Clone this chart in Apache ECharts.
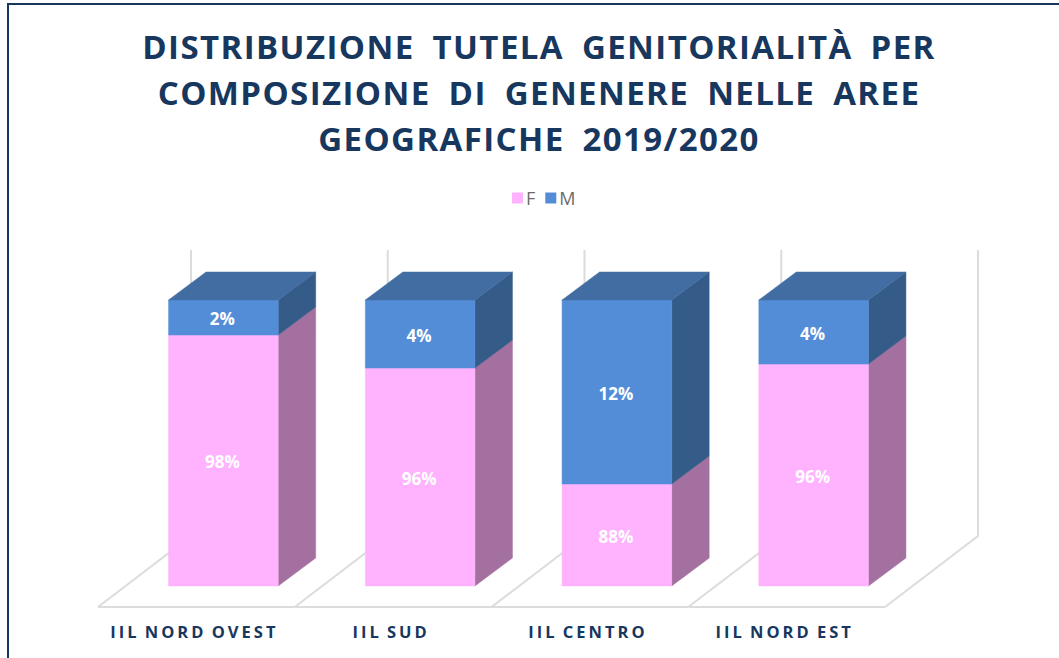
<!DOCTYPE html>
<html>
<head>
<meta charset="utf-8">
<style>
html,body{margin:0;padding:0;background:#fff}
#c{width:1059px;height:658px}
/* spaced-out lettering of the reference: title and category labels */
#c text[style*="33px"]{letter-spacing:1.4px;word-spacing:8px}
#c text[style*="16.5px"]{letter-spacing:3px;word-spacing:-2px}
</style>
<script src="https://cdn.jsdelivr.net/npm/echarts@6/dist/echarts.min.js"></script>
</head>
<body>
<div id="c"></div>
<script>
const titleText = 'DISTRIBUZIONE TUTELA GENITORIALITÀ PER\nCOMPOSIZIONE DI GENENERE NELLE AREE\nGEOGRAFICHE 2019/2020';
const categories = ['IIL NORD OVEST', 'IIL SUD', 'IIL CENTRO', 'IIL NORD EST'];
const fValues = [97.55, 95.24, 87.13, 95.52];
const totals = [100, 100, 100, 100];
const fLabels = ['98%', '96%', '88%', '96%'];
const mLabels = ['2%', '4%', '12%', '4%'];

const AXIS_MIN = 80, AXIS_MAX = 100;
const BAR_W = 109.6, BAR_SHIFT = 27, DEPTH_X = 37.5, DEPTH_Y = 28;
const FLOOR_X = 93, FRONT_DROP = 21, BACK_RISE = 50;
const C = {
  pink: '#FFB3FF', pinkSide: '#A3709F',
  blue: '#548DD7', blueSide: '#355C89', blueTop: '#426DA2',
  grid: '#DCDCDC', navy: '#17375E'
};

function poly(points, fill) {
  return { type: 'polygon', shape: { points }, style: { fill, stroke: fill, lineWidth: 0.5 } };
}
function boxRender(front, side, top, labels) {
  return function (params, api) {
    const i = api.value(0);
    const p0 = api.coord([i, api.value(1)]);
    const p1 = api.coord([i, api.value(2)]);
    const l = p0[0] - BAR_W / 2 + BAR_SHIFT, r = l + BAR_W;
    const yb = p0[1], yt = p1[1];
    const kids = [
      poly([[r, yb], [r + DEPTH_X, yb - DEPTH_Y], [r + DEPTH_X, yt - DEPTH_Y], [r, yt]], side),
      poly([[l, yb], [r, yb], [r, yt], [l, yt]], front)
    ];
    if (top) kids.push(poly([[l, yt], [r, yt], [r + DEPTH_X, yt - DEPTH_Y], [l + DEPTH_X, yt - DEPTH_Y]], top));
    kids.push({
      type: 'text',
      style: {
        x: (l + r) / 2 - 1, y: (yb + yt) / 2 + 1, text: labels[i],
        fill: '#fff', align: 'center', verticalAlign: 'middle',
        font: 'bold 17px "Open Sans", sans-serif'
      }
    });
    return { type: 'group', children: kids };
  };
}
function floorRender(params, api) {
  const i = api.value(0);
  const c = api.coord([i, AXIS_MIN]);
  const top = api.coord([i, AXIS_MAX])[1];
  const band = api.size([1, 0])[0];
  const lineStyle = { stroke: C.grid, lineWidth: 2, fill: 'none' };
  const bounds = i === categories.length - 1 ? [c[0] - band / 2, c[0] + band / 2] : [c[0] - band / 2];
  const kids = [];
  bounds.forEach(x => {
    kids.push({
      type: 'polyline',
      shape: { points: [[x, c[1] + FRONT_DROP], [x + FLOOR_X, c[1] - BACK_RISE], [x + FLOOR_X, top - BACK_RISE]] },
      style: lineStyle
    });
  });
  kids.push({
    type: 'line',
    shape: { x1: c[0] - band / 2, y1: c[1] + FRONT_DROP, x2: c[0] + band / 2, y2: c[1] + FRONT_DROP },
    style: lineStyle
  });
  return { type: 'group', children: kids };
}

const chart = echarts.init(document.getElementById('c'), null, { renderer: 'svg', width: 1059, height: 658 });
chart.setOption({
  animation: false,
  backgroundColor: '#fff',
  title: {
    text: titleText, left: 534, top: 18, textAlign: 'center',
    textStyle: { fontFamily: '"Open Sans", sans-serif', fontWeight: 'bold', fontSize: 33, lineHeight: 46, color: C.navy }
  },
  legend: {
    data: ['F', 'M'], left: 507, top: 184, itemWidth: 11, itemHeight: 11, itemGap: 10, icon: 'rect',
    textStyle: { fontFamily: '"Open Sans", sans-serif', fontSize: 18, color: '#6B6B6B', padding: [0, 0, 0, -2] }
  },
  grid: { left: 98, top: 300, width: 787, height: 286 },
  xAxis: {
    type: 'category', data: categories,
    axisLine: { show: false }, axisTick: { show: false }, splitLine: { show: false },
    axisLabel: {
      interval: 0, margin: 37, color: C.navy, padding: [0, 4, 0, 0],
      fontFamily: '"Open Sans", sans-serif', fontWeight: 'bold', fontSize: 16.5
    }
  },
  yAxis: { type: 'value', min: AXIS_MIN, max: AXIS_MAX, show: false, splitLine: { show: false } },
  series: [
    {
      type: 'custom', name: 'floor', silent: true, z: 1,
      renderItem: floorRender,
      data: categories.map((_, i) => [i]),
      encode: { x: 0 }
    },
    {
      type: 'custom', name: 'F', z: 2, itemStyle: { color: C.pink },
      renderItem: boxRender(C.pink, C.pinkSide, null, fLabels),
      data: categories.map((_, i) => [i, AXIS_MIN, fValues[i]]),
      encode: { x: 0, y: [1, 2] }
    },
    {
      type: 'custom', name: 'M', z: 3, itemStyle: { color: C.blue },
      renderItem: boxRender(C.blue, C.blueSide, C.blueTop, mLabels),
      data: categories.map((_, i) => [i, fValues[i], totals[i]]),
      encode: { x: 0, y: [1, 2] }
    }
  ],
  graphic: [{
    type: 'rect', silent: true, z: 0,
    shape: { x: 8, y: 4, width: 1200, height: 800 },
    style: { fill: 'none', stroke: C.navy, lineWidth: 2 }
  }]
});
</script>
</body>
</html>
